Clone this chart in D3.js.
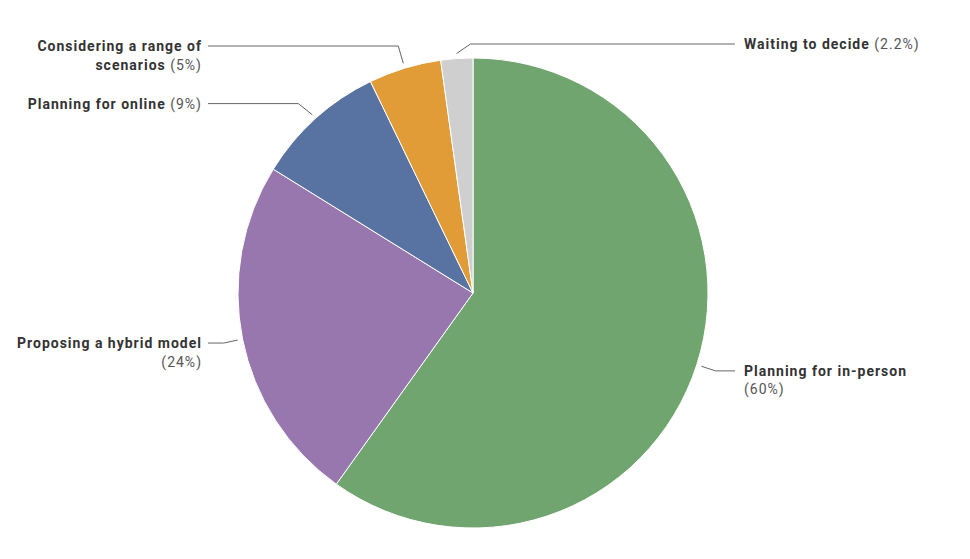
<!DOCTYPE html>
<meta charset="utf-8">
<head>
    <style>
        body { margin: 0; background: #fff; }
        text { font-family: Roboto, "Noto Sans", sans-serif; font-size: 14px; letter-spacing: 1px; }
        .name { font-weight: 700; fill: #333; }
        .pct { font-weight: 400; fill: #555; }
        .leader { fill: none; stroke: #666; stroke-width: 1; }
    </style>
    <script src="https://d3js.org/d3.v7.min.js"></script>
</head>
<body>
<script>

    // data
    var categories = ["Planning for in-person", "Proposing a hybrid model", "Planning for online",
        "Considering a range of scenarios", "Waiting to decide"];
    var values = [60, 24, 9, 5, 2.2];
    var pctLabels = ["60%", "24%", "9%", "5%", "2.2%"];
    // how each label wraps ("" = percent on its own line)
    var labelLines = [
        ["Planning for in-person", ""],
        ["Proposing a hybrid model", ""],
        ["Planning for online"],
        ["Considering a range of", "scenarios"],
        ["Waiting to decide"]
    ];
    var colors = ["#70a56f", "#9876ae", "#5872a2", "#e29c37", "#cfcfcf"];

    var width = 970, height = 559,
        cx = 473, cy = 293, r = 235;

    var svg = d3.select("body").append("svg")
        .attr("width", width)
        .attr("height", height);

    var g = svg.append("g").attr("transform", "translate(" + cx + "," + cy + ")");

    var pie = d3.pie().sort(null).value(function (d) { return d; });
    var arcs = pie(values);
    var arc = d3.arc().innerRadius(0).outerRadius(r);

    g.selectAll("path.slice")
        .data(arcs)
        .enter().append("path")
        .attr("class", "slice")
        .attr("d", arc)
        .attr("fill", function (d, i) { return colors[i]; })
        .attr("stroke", "#fff")
        .attr("stroke-width", 1);

    // leader lines + labels
    var lineH = 18.5;
    arcs.forEach(function (d, i) {
        var a = (d.startAngle + d.endAngle) / 2;
        var sx = Math.sin(a), sy = -Math.cos(a);
        var p0 = [sx * (r + 5), sy * (r + 5)];
        var labelY = Math.max(sy * (r + 20), -249);
        if (i === 3) labelY = -247;   // keep the two top-left labels apart
        if (i === 4) labelY = -249;
        var right = (i === 0 || i === 4);
        var elbowX = p0[0] + (right ? 14 : (i === 3 ? -5 : -14));
        var endX = right ? 735 - cx : 208 - cx;
        var textX = right ? 744 - cx : 202 - cx;

        g.append("path")
            .attr("class", "leader")
            .attr("d", d3.line()([p0, [elbowX, labelY], [endX, labelY]]));

        var lines = labelLines[i];
        var t = g.append("text")
            .attr("text-anchor", right ? "start" : "end");
        lines.forEach(function (ln, j) {
            var last = j === lines.length - 1;
            var y = labelY + 5 + j * lineH;
            if (ln !== "") {
                t.append("tspan").attr("x", textX).attr("y", y)
                    .attr("class", "name").text(ln);
                if (last) {
                    t.append("tspan").attr("class", "pct").text(" (" + pctLabels[i] + ")");
                }
            } else {
                t.append("tspan").attr("x", textX).attr("y", y)
                    .attr("class", "pct").text("(" + pctLabels[i] + ")");
            }
        });
    });

</script>
</body>
</html>
